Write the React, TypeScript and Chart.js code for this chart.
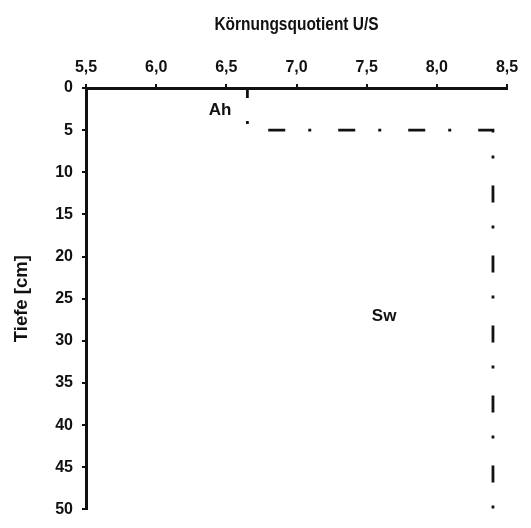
import React, { useEffect, useRef } from "react";
import { Chart, registerables } from "chart.js";

Chart.register(...registerables);

const profileX = [6.65, 6.65, 8.4, 8.4];
const profileY = [0, 5, 5, 50];
const horizonLabels = ["Ah", "Sw"];
const horizonLabelX = [6.455, 7.624];
const horizonLabelY = [2.66, 27.08];
const xTitle = "Körnungsquotient U/S";
const yTitle = "Tiefe [cm]";

const FONT = "'Liberation Sans', Arial, sans-serif";

const labelPlugin = {
  id: "horizonLabels",
  afterDatasetsDraw(chart: any) {
    const { ctx, scales, chartArea } = chart;
    ctx.save();
    ctx.fillStyle = "#111";
    ctx.font = `bold 17px ${FONT}`;
    ctx.textAlign = "center";
    ctx.textBaseline = "middle";
    horizonLabels.forEach((t, i) => {
      ctx.fillText(t, scales.x.getPixelForValue(horizonLabelX[i]), scales.y.getPixelForValue(horizonLabelY[i]));
    });
    // condensed axis title on top
    const cx = (chartArea.left + chartArea.right) / 2;
    ctx.translate(cx, 30);
    ctx.scale(0.86, 1);
    ctx.font = `bold 18px ${FONT}`;
    ctx.textBaseline = "alphabetic";
    ctx.fillText(xTitle, 0, 0);
    ctx.restore();
  },
};

export default function App() {
  const ref = useRef<HTMLCanvasElement>(null);
  useEffect(() => {
    const chart = new Chart(ref.current!, {
      type: "scatter",
      data: {
        datasets: [
          {
            data: profileX.map((x, i) => ({ x, y: profileY[i] })),
            showLine: true,
            borderColor: "#111",
            borderWidth: 2.8,
            borderDash: [17, 23, 3, 27],
            borderDashOffset: 7,
            pointRadius: 0,
            fill: false,
            tension: 0,
          },
        ],
      },
      options: {
        animation: false,
        responsive: true,
        maintainAspectRatio: false,
        layout: { padding: { top: 0, left: 0, right: 24, bottom: 8 } },
        plugins: { legend: { display: false }, tooltip: { enabled: false } },
        scales: {
          x: {
            type: "linear",
            position: "top",
            min: 5.5,
            max: 8.5,
            afterFit(scale: any) {
              scale.height = 88;
            },
            ticks: {
              stepSize: 0.5,
              autoSkip: false,
              maxRotation: 0,
              color: "#111",
              padding: 7,
              font: { family: FONT, size: 16, weight: "bold" },
              callback: (v: any) => Number(v).toFixed(1).replace(".", ","),
            },
            grid: { drawOnChartArea: false, drawTicks: true, tickLength: 4, color: "#111", lineWidth: 2 },
            border: { display: true, color: "#111", width: 3 },
            title: { display: false },
          },
          y: {
            type: "linear",
            reverse: true,
            min: 0,
            max: 50,
            afterFit(scale: any) {
              scale.width = 86;
            },
            ticks: {
              stepSize: 5,
              autoSkip: false,
              color: "#111",
              padding: 9,
              font: { family: FONT, size: 16, weight: "bold" },
            },
            grid: { drawOnChartArea: false, drawTicks: true, tickLength: 4, color: "#111", lineWidth: 2 },
            border: { display: true, color: "#111", width: 3 },
            title: {
              display: true,
              text: yTitle,
              color: "#111",
              font: { family: FONT, size: 18.5, weight: "bold" },
              padding: { top: 11, bottom: 0 },
            },
          },
        },
      },
      plugins: [labelPlugin],
    } as any);
    return () => chart.destroy();
  }, []);
  return (
    <div style={{ position: "fixed", left: 0, top: 0, width: 531, height: 528, background: "#fff" }}>
      <canvas ref={ref} />
    </div>
  );
}
